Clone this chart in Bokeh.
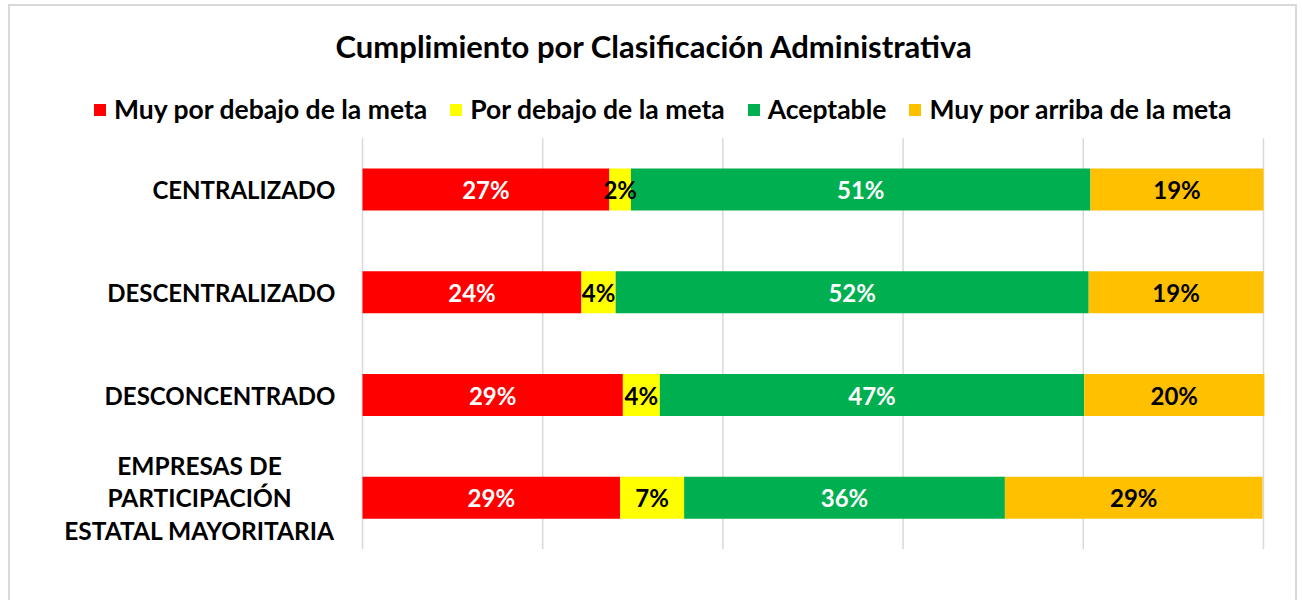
from bokeh.plotting import figure
from bokeh.models import ColumnDataSource, Range1d, Legend, LegendItem, Label
from bokeh.core.properties import value
from bokeh.embed import file_html
from bokeh.resources import INLINE
import numpy as np

categories = ["CENTRALIZADO", "DESCENTRALIZADO", "DESCONCENTRADO",
              "EMPRESAS DE\nPARTICIPACIÓN\nESTATAL MAYORITARIA"]
series = ["Muy por debajo de la meta", "Por debajo de la meta", "Aceptable", "Muy por arriba de la meta"]
muy_debajo = [27.4, 24.3, 28.9, 28.6]
debajo = [2.4, 3.8, 4.1, 7.1]
aceptable = [51.0, 52.5, 47.1, 35.6]
muy_arriba = [19.2, 19.4, 20.0, 28.6]
colors = ["#FF0000", "#FFFF00", "#00B050", "#FFC000"]
label_colors = ["white", "black", "white", "black"]
x_ticks = [0, 20, 40, 60, 80, 100]
title = "Cumplimiento por Clasificación Administrativa"

FONT = "Lato"
W, H = 1289, 600

n = len(categories)
ypos = np.arange(n)  # category index, 0 at top

keys = ["s0", "s1", "s2", "s3"]
source = ColumnDataSource(dict(y=ypos, s0=muy_debajo, s1=debajo, s2=aceptable, s3=muy_arriba))

# the plotting frame fills the whole canvas; ranges chosen so that 0..100 spans the bar area
p = figure(width=W, height=H, output_backend="svg", toolbar_location=None,
           x_range=Range1d(-39.07, 104.0), y_range=Range1d(4.058, -1.781),
           x_axis_location=None, y_axis_location=None,
           min_border=0, min_border_left=0, min_border_right=0, min_border_top=0, min_border_bottom=0)
p.xgrid.visible = False
p.ygrid.visible = False
p.outline_line_color = None

# vertical gridlines spanning the category bands
p.segment(x0=x_ticks, x1=x_ticks, y0=[-0.5] * len(x_ticks), y1=[n - 0.5] * len(x_ticks),
          line_color="#D9D9D9", line_width=1.5)

renderers = p.hbar_stack(keys, y="y", height=0.41, color=colors, source=source, line_width=0)

# data labels
vals = np.array([muy_debajo, debajo, aceptable, muy_arriba])
cum = np.cumsum(vals, axis=0)
for i in range(4):
    centers = cum[i] - vals[i] / 2
    lab_src = ColumnDataSource(dict(x=centers, y=ypos, t=[f"{v:.0f}%" for v in vals[i]]))
    p.text(x="x", y="y", text="t", source=lab_src, text_align="center", text_baseline="middle",
           text_font=value(FONT), text_font_style="bold", text_font_size="24px",
           text_color=label_colors[i])

# category labels
single_idx = [i for i, c in enumerate(categories) if "\n" not in c]
multi_idx = [i for i, c in enumerate(categories) if "\n" in c]
p.text(x=[0] * len(single_idx), y=[int(ypos[i]) for i in single_idx],
       text=[categories[i] for i in single_idx], x_offset=-27,
       text_align="right", text_baseline="middle", text_font=value(FONT),
       text_font_style="bold", text_font_size="24px", text_color="black")
p.text(x=[0] * len(multi_idx), y=[int(ypos[i]) for i in multi_idx],
       text=[categories[i] for i in multi_idx], x_offset=-163,
       text_align="center", text_baseline="middle", text_font=value(FONT),
       text_font_style="bold", text_font_size="24.5px", text_color="black", text_line_height=1.12)

# title
p.add_layout(Label(x=644, y=H - 39, x_units="screen", y_units="screen", text=title,
                   text_align="center", text_baseline="middle", text_font=FONT,
                   text_font_size="31px", text_font_style="bold", text_color="black"))

legend = Legend(items=[LegendItem(label=s, renderers=[r]) for s, r in zip(series, renderers)],
                orientation="horizontal", location=(82, 481),
                label_text_font=FONT, label_text_font_size="26.5px", label_text_font_style="bold",
                label_text_color="black", glyph_width=15, glyph_height=15,
                spacing=21, label_standoff=7, border_line_color=None, background_fill_alpha=0,
                margin=0, padding=0)
p.add_layout(legend, "center")

p.styles = {"border": "2px solid #D9D9D9", "margin-left": "8px", "margin-top": "4px"}

open("out.html", "w").write(file_html(p, INLINE))
